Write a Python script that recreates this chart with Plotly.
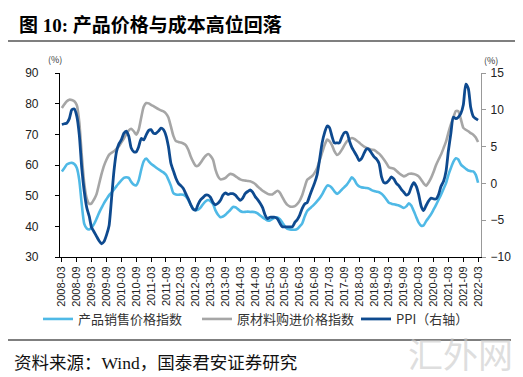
import pandas as pd
import plotly.graph_objects as go

months = pd.date_range("2008-03-01", "2022-03-01", freq="MS")

# 产品销售价格指数 (left axis)
sales_price = [
    57.9, 59.0, 60.2, 60.6, 60.7, 60.3, 59.0, 55.0, 47.0, 40.8,
    39.3, 39.0, 39.6, 40.8, 42.5, 44.4, 46.0, 47.6, 48.9, 50.1, 51.0, 52.0,
    53.1, 54.1, 55.0, 55.8, 56.0, 55.8, 54.5, 53.6, 53.4, 55.0, 58.5, 61.2,
    62.1, 61.2, 60.4, 59.8, 59.2, 58.6, 58.1, 57.6, 56.8, 55.2, 53.2, 50.8,
    50.4, 50.3, 50.4, 50.3, 49.8, 48.6, 47.0, 45.6, 45.3, 45.5, 46.2, 47.3,
    48.2, 48.6, 48.2, 47.3, 45.2, 43.8, 43.0, 43.2, 43.8, 44.6, 45.4, 46.3,
    46.2, 45.6, 45.0, 44.7, 44.7, 44.8, 44.7, 44.7, 44.6, 44.2, 43.5, 42.9,
    42.4, 41.9, 41.9, 42.4, 42.8, 42.9, 42.3, 41.2, 40.0, 39.2, 39.0, 38.9,
    38.9, 39.2, 40.0, 41.0, 43.2, 45.0, 45.8, 46.5, 47.3, 48.2, 49.2, 50.4,
    52.0, 53.3, 53.2, 52.5, 51.4, 50.6, 51.1, 52.0, 52.8, 53.6, 54.8, 56.0,
    55.2, 53.7, 53.0, 52.7, 52.6, 52.5, 52.3, 51.8, 51.5, 51.3, 51.1, 50.6,
    49.8, 48.7, 47.7, 47.4, 47.2, 47.0, 46.8, 46.4, 46.0, 46.5, 47.5, 46.8,
    45.0, 43.0, 41.2, 40.2, 40.3, 41.7, 42.8, 44.0, 45.5, 47.0, 48.7, 50.3,
    52.2, 54.1, 56.7, 59.0, 61.0, 62.2, 61.8, 60.2, 59.4, 58.8, 58.2, 58.0,
    57.9, 56.8, 54.2,
]

# 原材料购进价格指数 (left axis)
input_price = [
    78.6, 79.8, 80.8, 81.3, 81.2, 80.8, 79.5, 74.0, 63.0, 54.0,
    49.0, 47.3, 47.5, 48.8, 50.5, 53.8, 57.0, 59.8, 61.8, 63.3, 64.0, 64.5,
    65.3, 66.1, 67.3, 68.6, 70.0, 71.3, 71.8, 71.0, 69.9, 71.5, 75.5, 79.0,
    80.2, 80.1, 79.6, 79.2, 78.7, 78.2, 77.8, 77.5, 76.8, 75.5, 72.5, 69.5,
    67.8, 67.5, 67.3, 67.0, 66.5, 65.0, 62.8, 61.0, 59.7, 59.8, 60.8, 62.0,
    63.0, 63.6, 63.0, 61.7, 58.5, 56.3, 55.3, 55.4, 55.8, 56.6, 57.1, 56.9,
    56.4, 55.8, 55.3, 55.0, 54.9, 54.8, 54.7, 54.3, 53.8, 53.0, 52.3, 51.6,
    51.1, 50.6, 50.4, 50.4, 51.0, 51.6, 51.0, 49.5, 48.0, 47.0, 46.5, 46.4,
    46.6, 47.3, 48.4, 50.2, 52.8, 55.2, 55.8, 56.4, 57.5, 59.0, 61.5, 64.0,
    66.5, 68.3, 67.8, 66.5, 64.5, 63.3, 63.8, 65.0, 66.5, 67.7, 68.4, 68.8,
    68.5, 67.9, 67.3, 66.6, 66.0, 65.6, 65.3, 65.0, 64.9, 64.3, 63.7, 62.8,
    61.7, 60.5, 59.3, 59.0, 58.8, 58.1, 57.4, 56.8, 56.3, 56.6, 57.1, 57.2,
    57.1, 56.8, 56.3, 55.2, 54.0, 53.2, 54.3, 55.8, 57.8, 60.0, 61.8, 63.4,
    65.5, 67.7, 70.5, 73.2, 75.5, 77.6, 77.5, 75.0, 72.1, 71.5, 71.0, 70.4,
    69.9, 69.0, 67.5,
]

# PPI 同比 (right axis)
ppi = [
    8.0, 8.1, 8.2, 8.8, 10.0, 10.1, 9.1, 6.6, 2.0, -1.1,
    -3.3, -4.5, -6.0, -6.6, -7.2, -7.8, -8.2, -7.9, -7.0, -5.8, -2.1, 1.7,
    4.3, 5.4, 5.9, 6.8, 7.1, 6.4, 4.8, 4.3, 4.3, 5.0, 6.1, 5.9,
    6.6, 7.2, 7.3, 6.8, 6.8, 7.1, 7.5, 7.3, 6.5, 5.0, 2.7, 1.7,
    0.7, 0.0, -0.3, -0.7, -1.4, -2.1, -2.9, -3.5, -3.6, -2.8, -2.2, -1.9,
    -1.6, -1.6, -1.9, -2.6, -2.9, -2.7, -2.3, -1.6, -1.3, -1.5, -1.4, -1.4,
    -1.6, -2.0, -2.3, -2.0, -1.4, -1.1, -0.9, -1.2, -1.8, -2.2, -2.7, -3.3,
    -4.3, -4.8, -4.6, -4.6, -4.6, -4.8, -5.4, -5.9, -5.9, -5.9, -5.9, -5.9,
    -5.3, -4.9, -4.3, -3.4, -2.8, -2.6, -1.7, -0.8, 0.1, 1.2, 3.3, 5.5,
    6.9, 7.8, 7.6, 6.4, 5.5, 5.5, 5.5, 6.3, 6.9, 6.9, 5.8, 4.9,
    4.3, 3.7, 3.1, 3.4, 4.1, 4.7, 4.6, 4.1, 3.6, 3.3, 2.7, 0.9,
    0.1, 0.1, 0.4, 0.9, 0.6, 0.0, -0.3, -0.8, -1.2, -1.6, -1.4, -0.5,
    0.1, -0.4, -1.5, -3.1, -3.7, -3.0, -2.4, -2.0, -2.1, -2.1, -1.5, -0.4,
    0.3, 1.7, 4.4, 6.8, 9.0, 8.8, 9.0, 9.5, 10.7, 13.5, 12.9, 10.3,
    9.1, 8.8, 8.6,
]

names = ["产品销售价格指数", "原材料购进价格指数", "PPI（右轴）"]
colors = ["#4FB9E6", "#A6A6A6", "#0E4A8F"]

W, H = 523, 377
L, R, T, B = 52, 50, 65, 128
PW, PH = W - L - R, H - T - B


def px(x):
    return (x - L) / PW


def py(y):
    return (H - B - y) / PH


fig = go.Figure()
fig.add_trace(go.Scatter(x=months, y=sales_price, name=names[0], mode="lines",
                         line=dict(color=colors[0], width=2.6, shape="spline", smoothing=0.6)))
fig.add_trace(go.Scatter(x=months, y=input_price, name=names[1], mode="lines",
                         line=dict(color=colors[1], width=2.6, shape="spline", smoothing=0.6)))
fig.add_trace(go.Scatter(x=months, y=ppi, name=names[2], mode="lines", yaxis="y2",
                         line=dict(color=colors[2], width=2.8, shape="spline", smoothing=0.6)))

tickfont = dict(family="Arial, Liberation Sans", size=12, color="#222")

fig.update_layout(
    width=W, height=H,
    margin=dict(l=L, r=R, t=T, b=B),
    paper_bgcolor="white", plot_bgcolor="white",
    showlegend=True,
    legend=dict(orientation="h", x=px(30), y=py(296), xanchor="left", yanchor="top",
                font=dict(family="Noto Sans CJK SC", size=13, color="#333"),
                itemwidth=30, entrywidth=114, entrywidthmode="pixels",
                tracegroupgap=0, bgcolor="rgba(0,0,0,0)"),
    xaxis=dict(type="date", range=["2008-02-07", "2022-04-06"],
               tick0="2008-03-01", dtick="M6", tickformat="%Y-%m", tickangle=-90,
               ticks="outside", ticklen=4, tickcolor="#000", showgrid=False,
               showline=True, linecolor="#000", linewidth=1.2,
               tickfont=dict(family="Arial, Liberation Sans", size=11, color="#222")),
    yaxis=dict(range=[30, 90], dtick=10, ticks="outside", ticklen=4, tickcolor="#000",
               showgrid=False, zeroline=False, showline=True, linecolor="#000", linewidth=1.2,
               tickfont=tickfont, ticklabelstandoff=14),
    yaxis2=dict(range=[-10, 15], dtick=5, overlaying="y", side="right", ticks="outside",
                ticklen=4, tickcolor="#999", showgrid=False, zeroline=False, showline=True,
                linecolor="#999", linewidth=1.2, tickfont=tickfont, ticklabelstandoff=2),
)

fig.add_annotation(text="<b>图 10: 产品价格与成本高位回落</b>", xref="paper", yref="paper",
                   x=px(9), y=py(17), xanchor="left", yanchor="middle", showarrow=False,
                   font=dict(family="Liberation Serif, Noto Sans CJK SC", size=19, color="#000"))
fig.add_annotation(text="(%)", xref="paper", yref="paper", x=px(47), y=py(51),
                   xanchor="center", yanchor="middle", showarrow=False,
                   font=dict(family="Noto Sans CJK SC", size=9, color="#333"))
fig.add_annotation(text="(%)", xref="paper", yref="paper", x=px(483), y=py(52),
                   xanchor="center", yanchor="middle", showarrow=False,
                   font=dict(family="Noto Sans CJK SC", size=9, color="#333"))
fig.add_annotation(text="资料来源：Wind，国泰君安证券研究", xref="paper", yref="paper",
                   x=px(4), y=py(355), xanchor="left", yanchor="middle", showarrow=False,
                   font=dict(family="Liberation Serif, Noto Sans CJK SC", size=17.5, color="#111"))
fig.add_annotation(text="汇外网", xref="paper", yref="paper", x=px(452), y=py(344),
                   xanchor="center", yanchor="middle", showarrow=False,
                   font=dict(family="Noto Sans CJK SC", size=35, color="rgba(200,200,200,0.6)"))

fig.add_shape(type="line", xref="paper", yref="paper", x0=px(0), x1=px(516), y0=py(33), y1=py(33),
              line=dict(color="#000", width=1.2))
fig.add_shape(type="line", xref="paper", yref="paper", x0=px(0), x1=px(503), y0=py(332), y1=py(332),
              line=dict(color="#000", width=1.2))

fig.write_html("out.html")
